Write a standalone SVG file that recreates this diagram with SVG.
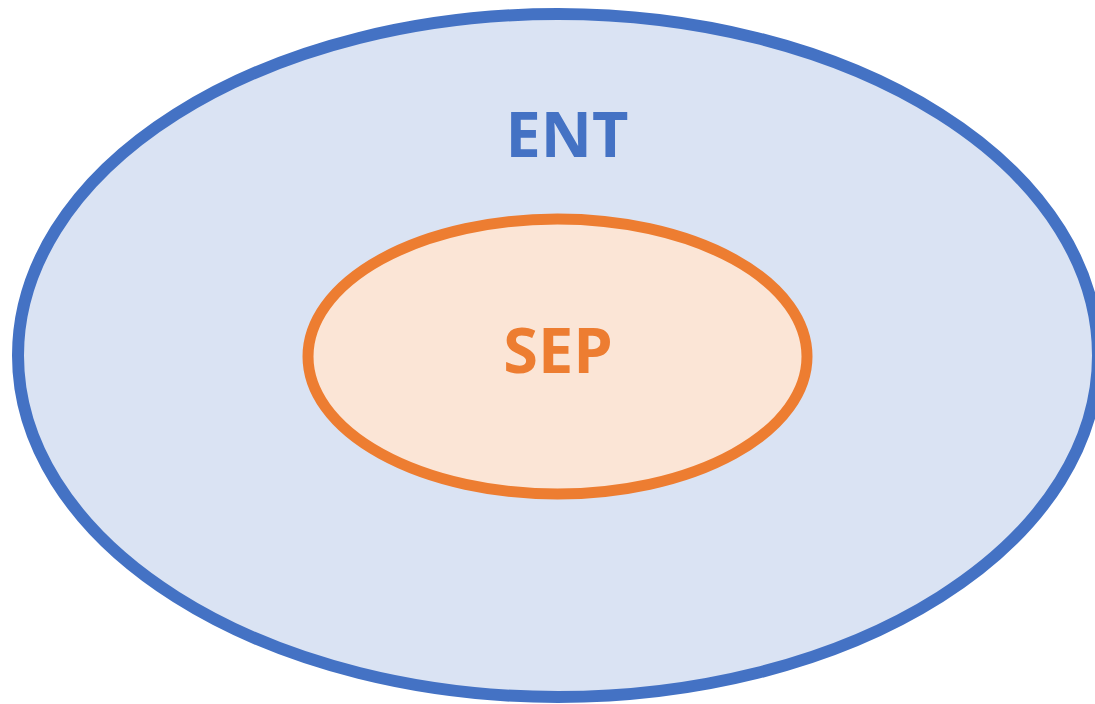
<svg xmlns="http://www.w3.org/2000/svg" width="1095" height="704" viewBox="0 0 1095 704">
<style>
.lbl{font-family:"Open Sans","Liberation Sans",sans-serif;font-weight:bold;font-size:63px;text-anchor:middle}
</style>
<rect width="1095" height="704" fill="#ffffff"/>
<g id="ENT">
<ellipse cx="558" cy="355.5" rx="540" ry="341.5" fill="#DAE3F3" stroke="#4472C4" stroke-width="12"/>
<text class="lbl" x="567" y="157" fill="#4472C4">ENT</text>
</g>
<g id="SEP">
<ellipse cx="557.5" cy="356.5" rx="249.5" ry="137.5" fill="#FBE5D6" stroke="#ED7D31" stroke-width="11"/>
<text class="lbl" x="558" y="373" fill="#ED7D31">SEP</text>
</g>
<g id="connectors"></g>
</svg>
